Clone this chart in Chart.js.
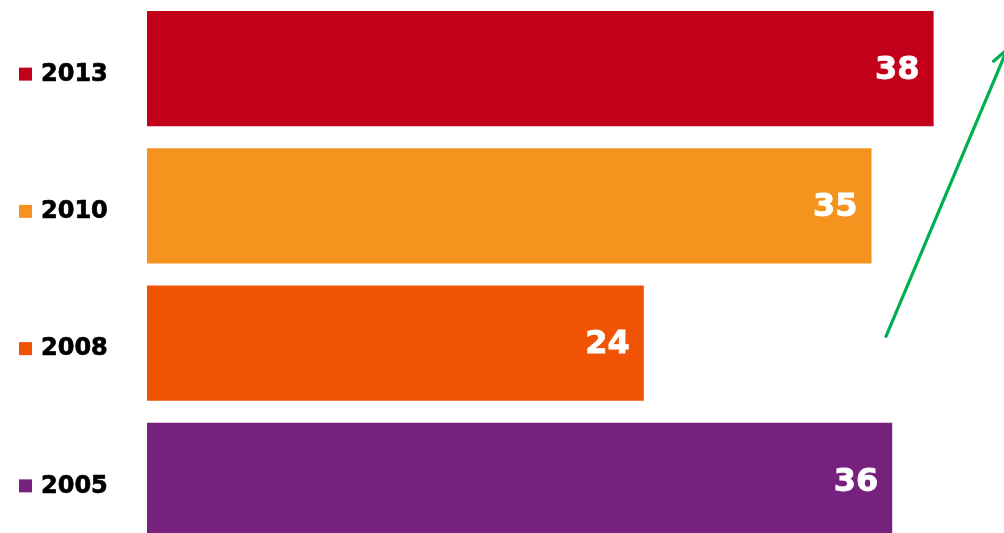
<!DOCTYPE html>
<html>
<head>
<meta charset="utf-8">
<script src="https://cdn.jsdelivr.net/npm/chart.js@4/dist/chart.umd.min.js"></script>
<style>
  html, body { margin: 0; padding: 0; background: #fff; overflow: hidden; }
  #wrap { width: 1004px; height: 533px; overflow: hidden; }
</style>
</head>
<body>
<div id="wrap"><canvas id="myChartBar" width="1004" height="549"></canvas></div>
<script>
const years = ['2013', '2010', '2008', '2005'];
const values = [38, 35, 24, 36];
const colors = ['#c30019', '#f5931f', '#f05206', '#77217e'];
// trend arrow, in data units: [x value, category index]
const arrowFrom = [35.7, 1.95];
const arrowTo = [41.55, -0.14];

const font = '"DejaVu Sans", Verdana, sans-serif';

const valueLabels = {
    id: 'valueLabels',
    afterDatasetsDraw(chart) {
        const ctx = chart.ctx;
        const meta = chart.getDatasetMeta(0);
        ctx.save();
        ctx.font = 'bold 32px ' + font;
        ctx.fillStyle = '#fff';
        ctx.strokeStyle = '#fff';
        ctx.lineWidth = 0.8;
        ctx.textAlign = 'right';
        ctx.textBaseline = 'middle';
        meta.data.forEach((bar, i) => {
            ctx.fillText(String(values[i]), bar.x - 14, bar.y + 2);
            ctx.strokeText(String(values[i]), bar.x - 14, bar.y + 2);
        });
        ctx.restore();
    }
};

const sideLabels = {
    id: 'sideLabels',
    afterDraw(chart) {
        const ctx = chart.ctx;
        const y = chart.scales.y;
        ctx.save();
        ctx.font = 'bold 24px ' + font;
        ctx.textBaseline = 'middle';
        ctx.textAlign = 'left';
        ctx.lineWidth = 0.7;
        years.forEach((yr, i) => {
            const py = y.getPixelForValue(i) + 5;
            ctx.fillStyle = colors[i];
            ctx.fillRect(19, py - 6, 13, 13);
            ctx.fillStyle = '#000';
            ctx.strokeStyle = '#000';
            ctx.fillText(yr, 41, py + 1);
            ctx.strokeText(yr, 41, py + 1);
        });
        ctx.restore();
    }
};

const trendArrow = {
    id: 'trendArrow',
    afterDraw(chart) {
        const ctx = chart.ctx;
        const xs = chart.scales.x, ys = chart.scales.y;
        const x1 = xs.getPixelForValue(arrowFrom[0]), y1 = ys.getPixelForValue(arrowFrom[1]);
        const x2 = xs.getPixelForValue(arrowTo[0]), y2 = ys.getPixelForValue(arrowTo[1]);
        const a = Math.atan2(y2 - y1, x2 - x1);
        ctx.save();
        ctx.strokeStyle = '#00b050';
        ctx.lineWidth = 3.2;
        ctx.lineCap = 'round';
        ctx.beginPath();
        ctx.moveTo(x1, y1);
        ctx.lineTo(x2, y2);
        ctx.moveTo(x2 - 18 * Math.cos(a - 0.45), y2 - 18 * Math.sin(a - 0.45));
        ctx.lineTo(x2, y2);
        ctx.lineTo(x2 - 18 * Math.cos(a + 0.45), y2 - 18 * Math.sin(a + 0.45));
        ctx.stroke();
        ctx.restore();
    }
};

const ctxBar = document.getElementById('myChartBar').getContext('2d');

const myChartBar = new Chart(ctxBar, {
    type: 'bar',
    data: {
        labels: years,
        datasets: [{
            data: values,
            backgroundColor: colors,
            borderWidth: 0,
            barPercentage: 0.84,
            categoryPercentage: 1
        }]
    },
    options: {
        indexAxis: 'y',
        responsive: false,
        animation: false,
        layout: { padding: { left: 147, right: 0, top: 0, bottom: 0 } },
        plugins: {
            legend: { display: false },
            tooltip: { enabled: false }
        },
        scales: {
            x: { display: false, min: 0, max: 41.4 },
            y: { display: false }
        }
    },
    plugins: [valueLabels, sideLabels, trendArrow]
});
</script>
</body>
</html>
